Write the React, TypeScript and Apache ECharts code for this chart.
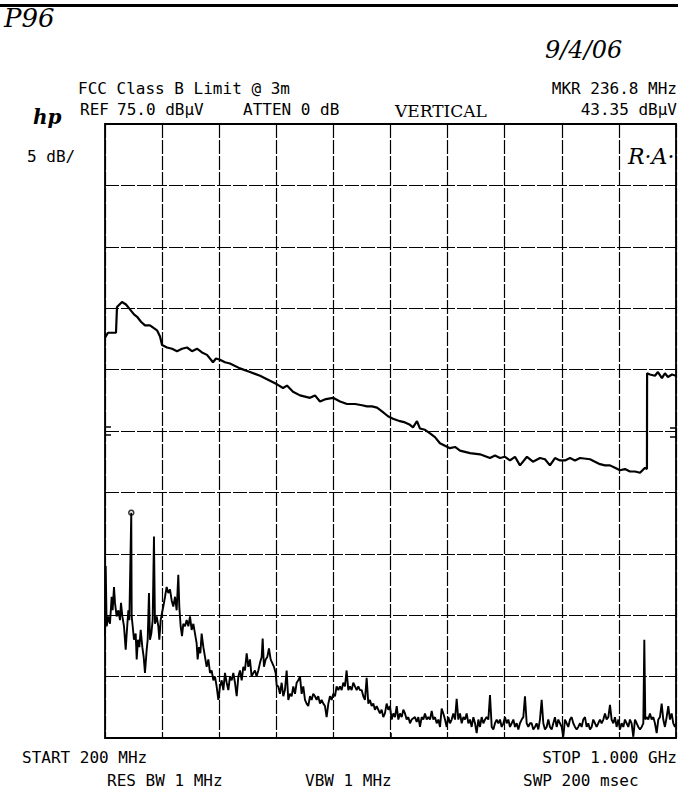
import React, { useEffect, useRef } from "react";
import * as echarts from "echarts";

// ---- Upper trace: FCC Class B limit line (MHz, dBµV) ----
const limitFreqMHz = [200,204.2,211.2,215.4,216.8,223.8,229.4,235,240.6,245,250.4,256,263,272.9,277.1,279.9,286.9,293.9,300.9,307.9,314.9,321.9,328.9,335.9,342.9,351.3,355.5,361.1,368.1,375.1,389.1,403.1,417.2,431.2,441,449.4,455,463.4,473.2,487.2,494.2,501.2,509.6,519.5,529.3,539.1,550.3,560.1,567.1,574.1,581.1,588.1,596.5,603.5,613.3,620.3,627.3,631.5,637.1,641.3,648.3,655.4,662.3,669.3,676.3,683.3,690.4,697.4,711.4,725.4,739.4,746.4,753.4,760.4,767.4,774.4,781.4,791.2,799.6,809.4,816.4,823.4,830.4,837.5,844.5,851.5,858.5,865.5,879.5,886.5,893.5,900.5,907.5,914.5,921.5,928.5,935.5,942.6,949.6,956.6,959.3,959.5,963.5,970.5,974.7,980.3,984.5,988.7,994.3,1000];
const limitLevelDbuv = [57.6,58.0,58.0,58.0,60.1,60.5,60.3,59.9,59.5,59.3,58.9,58.6,58.6,58.2,57.7,57.0,56.8,56.7,56.5,56.7,56.8,56.5,56.7,56.4,56.2,55.6,55.9,55.8,55.6,55.5,55.1,54.8,54.5,54.1,53.8,53.5,53.7,53.2,52.9,52.7,52.9,52.4,52.6,52.7,52.4,52.2,52.2,52.1,52.0,52.0,51.9,51.6,51.2,51.0,50.8,50.7,50.5,50.3,50.8,50.2,50.1,49.8,49.5,49.0,48.8,48.6,48.7,48.4,48.2,48.1,47.8,48.0,47.8,47.9,47.6,47.9,47.2,47.9,47.5,47.8,47.7,47.2,47.8,47.6,47.6,47.8,47.6,47.8,47.7,47.5,47.3,47.2,47.2,47.0,46.8,46.9,46.7,46.7,46.6,47.0,46.9,54.7,54.6,54.5,54.8,54.3,54.7,54.4,54.6,54.5];

// ---- Lower trace: measured emissions, in four frequency segments ----
const emiFreqA = [200,201,202.3,204.7,207,209.3,210.7,212.6,214,216.3,218.7,221,222.4,224.3,226.6,229,230.4,232.7,234.1,236.8,237.4,238.8,240.6,243,244.4,246.2,248.1,250,252.3,254.2,256,258.4,259.8,261.6,263,264.9,266.8,268.6,270,272.4,274.7,276.1,278,279.9,281.7,284.1,286.4,288.7,291.1,293.4,295.7,298.1,300.4,302.7,304.1,306,307.9,309.7,312.1,314.4,316.8,319.1,321.4,323.8,326.1,328.4,329.8,331.7,333.6,335.4,337.8,340.1,342.4,344.8,347.1,349.4,351.8,354.1,356.4,358.8,361.1,363.5,365.8,368.1,370.5,372.8,375.1,377.5,379.8,382.1,384.5,386.8,389.1,391.5,393.8,396.1,398.5,400.8,403.1];
const emiLevelA = [33.3,39.0,34.1,34.9,34.3,36.5,35.4,37.3,36.0,34.9,35.4,34.6,36.0,34.9,34.1,32.2,33.5,35.4,34.6,43.35,34.9,34.1,33.0,33.5,31.4,33.0,32.4,33.8,32.4,31.6,30.3,32.2,33.0,36.8,33.0,33.5,34.6,41.4,34.3,34.9,34.1,33.0,34.6,35.2,35.7,36.5,37.3,36.8,37.1,36.2,35.7,36.5,35.4,38.3,35.7,34.1,33.3,34.3,34.1,34.6,34.1,34.9,33.8,34.3,33.5,32.7,31.4,32.4,31.9,33.5,32.4,31.6,30.8,31.4,30.3,30.5,29.7,30.0,29.2,28.1,29.2,29.7,28.9,30.3,29.5,28.9,30.0,29.7,30.3,29.5,28.4,30.0,30.5,29.7,30.8,30.5,31.9,30.8,31.4];

const emiFreqB = [405.4,407.8,410.1,412.4,414.8,417.1,419.5,420.9,422.7,425.1,427.4,429.7,432.1,434.4,436.7,439.1,440.5,442.8,445.1,447.5,449.8,452.1,454.5,456.8,459.2,461.5,463.8,466.2,468.5,470.8,473.2,475.5,477.8,480.2,482.5,484.8,487.2,489.5,491.8,494.2,496.5,498.8,501.2,503.5,505.9,508.2,510.5,512.9,515.2,517.5,519.9,522.2,524.5,526.9,529.2,531.5,533.9,536.2,538.5,540.9,543.2,545.5,547.9,550.2,552.6,554.9,557.2,559.6,561.9,564.2,566.6,568.9,571.2,573.6,575.9,578.2,580.6,582.9,585.2,587.6,589.9,592.2,594.6,596.9,599.2];
const emiLevelB = [30.0,30.3,30.5,30.0,30.5,31.1,31.6,33.1,30.8,31.4,31.6,32.3,31.4,31.1,30.8,30.3,29.3,29.2,28.6,29.5,28.4,28.9,30.5,28.1,28.6,28.4,29.2,28.6,29.5,29.7,30.0,28.6,29.2,28.1,27.8,27.6,28.4,28.1,28.6,28.4,28.1,28.4,27.8,28.1,27.8,27.6,26.7,27.8,28.4,28.1,28.6,28.4,29.2,28.9,29.2,28.9,29.5,29.2,30.5,28.9,29.2,28.9,29.5,29.2,28.9,29.2,28.9,28.9,28.4,28.1,29.9,27.8,28.1,27.6,27.8,27.3,27.6,27.3,27.0,27.3,26.7,27.0,27.8,27.3,27.6];

const emiFreqC = [601.6,604.0,606.3,608.7,611.0,613.3,615.7,618.0,620.3,622.7,625.0,627.3,629.7,632.0,634.3,636.7,639.0,641.3,643.7,646.0,648.3,650.7,653.0,655.4,657.7,660.0,662.4,664.7,667.0,669.4,671.7,674.0,676.4,678.7,681.0,683.4,685.7,688.0,690.4,692.7,695.0,697.4,699.7,702.1,704.4,706.7,709.1,711.4,713.7,716.1,718.4,720.7,723.1,725.4,727.7,730.1,732.4,734.7,737.1,739.4,741.8,744.1,746.4,748.8,751.1,753.4,755.8,758.1,760.4,762.8,765.1,767.4,769.8,772.1,774.4,776.8,779.1,781.4,783.8,786.1,788.4,790.8,793.1,795.5];
const emiLevelC = [26.5,27.0,26.7,27.6,26.5,27.0,26.7,27.3,27.0,26.5,26.7,26.2,26.5,26.6,26.7,26.3,26.7,25.9,26.7,26.5,27.0,26.5,26.7,26.5,27.2,26.5,26.7,26.2,26.5,25.9,27.4,27.0,26.5,25.9,26.7,26.2,26.5,27.0,26.5,28.2,26.5,27.0,26.2,26.7,26.5,27.0,26.2,26.5,25.9,26.7,26.2,25.4,26.5,25.9,26.7,26.2,26.5,26.7,26.5,28.5,25.9,25.7,26.2,26.5,26.2,26.5,25.9,26.2,26.7,26.2,26.5,25.9,26.2,26.5,25.9,26.2,25.7,26.2,26.5,26.7,28.4,26.2,25.9,26.2];

const emiFreqD = [797.7,800.1,802.4,804.7,807.1,809.4,811.8,814.1,816.4,818.8,821.1,823.4,825.8,828.1,830.4,832.8,835.1,837.4,839.8,842.1,844.4,846.8,849.1,851.5,853.8,856.1,858.5,860.8,863.1,865.5,867.8,870.1,872.5,874.8,877.1,879.5,881.8,884.1,886.5,888.8,891.1,893.5,895.8,898.2,900.5,902.8,905.2,907.5,909.8,912.2,914.5,916.8,919.2,921.5,923.8,926.2,928.5,930.8,933.2,935.5,937.8,940.2,942.5,944.9,947.2,949.5,951.9,954.2,955.6,957.0,958.9,961.2,963.5,965.9,968.2,970.5,972.9,975.2,977.5,979.9,982.2,984.5,986.9,989.2,991.5,993.9,996.2,998.5,1000];
const emiLevelD = [26.2,25.7,25.9,26.2,25.7,26.5,28.1,26.2,25.7,25.9,26.5,25.9,25.7,26.2,26.7,25.9,26.5,26.2,25.9,25.1,26.5,26.2,25.9,26.5,26.7,26.2,25.9,25.7,25.9,26.2,25.9,26.5,26.7,25.9,26.2,25.7,25.9,26.5,26.2,25.9,26.2,26.5,26.2,26.5,27.0,26.5,26.7,27.7,26.5,26.2,26.7,25.9,26.5,25.7,26.2,25.9,26.5,26.2,25.9,26.5,26.2,25.1,26.5,26.2,25.9,25.7,25.9,26.2,33.0,26.5,26.7,26.5,27.0,26.5,26.7,26.2,25.4,26.5,26.7,27.8,26.5,25.9,26.7,27.6,26.5,27.0,26.2,25.9,26.2];

// ---- Marker ----
const markerFreqMHz = 236.8;
const markerLevelDbuv = 43.35;

// ---- Axis ranges ----
const startMHz = 200;
const stopMHz = 1000;
const refLevel = 75;
const dbPerDiv = 5;
const divisions = 10;

function pairs(f: number[], v: number[]) {
  const n = Math.min(f.length, v.length);
  const out: number[][] = [];
  for (let i = 0; i < n; i++) out.push([f[i], v[i]]);
  return out;
}

const MONO = '"DejaVu Sans Mono", monospace';

function hand(size: number, italic = true) {
  return `${italic ? "italic " : ""}400 ${size}px "DejaVu Serif", serif`;
}

export default function App() {
  const ref = useRef<HTMLDivElement>(null);
  useEffect(() => {
    if (!ref.current) return;
    const chart = echarts.init(ref.current, undefined, { renderer: "svg" });
    const gridLine = { show: true, lineStyle: { color: "#000", width: 1.2, type: [14, 2] as any } };
    const txt = (text: string, x: number, y: number, align: string, font: string) => ({
      type: "text",
      x,
      y,
      style: { text, font, fill: "#000", textAlign: align, textVerticalAlign: "middle" },
    });
    const tick = (x1: number, y1: number, x2: number, y2: number) => ({
      type: "line",
      shape: { x1, y1, x2, y2 },
      style: { stroke: "#000", lineWidth: 1.5 },
    });
    const monoFont = `16px ${MONO}`;
    const emi = [
      ...pairs(emiFreqA, emiLevelA),
      ...pairs(emiFreqB, emiLevelB),
      ...pairs(emiFreqC, emiLevelC),
      ...pairs(emiFreqD, emiLevelD),
    ];
    chart.setOption({
      animation: false,
      backgroundColor: "#fff",
      grid: {
        left: 105,
        top: 124,
        width: 571,
        height: 614,
        show: true,
        borderColor: "#000",
        borderWidth: 1.8,
        backgroundColor: "transparent",
      },
      xAxis: [
        { type: "value", min: startMHz, max: stopMHz, show: false },
        {
          type: "value",
          min: 0,
          max: divisions,
          interval: 1,
          position: "bottom",
          axisLine: { show: false },
          axisTick: { show: false },
          axisLabel: { show: false },
          splitLine: gridLine,
        },
      ],
      yAxis: [
        {
          type: "value",
          min: refLevel - dbPerDiv * divisions,
          max: refLevel,
          interval: dbPerDiv,
          axisLine: { show: false },
          axisTick: { show: false },
          axisLabel: { show: false },
          splitLine: gridLine,
        },
      ],
      series: [
        {
          type: "line",
          xAxisIndex: 0,
          data: pairs(limitFreqMHz, limitLevelDbuv),
          symbol: "none",
          lineStyle: { color: "#000", width: 2.2 },
        },
        {
          type: "line",
          xAxisIndex: 0,
          data: emi,
          symbol: "none",
          lineStyle: { color: "#000", width: 1.9 },
        },
        {
          type: "scatter",
          xAxisIndex: 0,
          data: [[markerFreqMHz, markerLevelDbuv]],
          symbol: "circle",
          symbolSize: 5,
          itemStyle: { color: "#fff", borderColor: "#000", borderWidth: 1.5 },
        },
      ],
      graphic: [
        { type: "rect", shape: { x: 0, y: 4, width: 678, height: 3 }, style: { fill: "#000" } },
        tick(105, 427, 111, 427),
        tick(105, 435, 111, 435),
        tick(670, 428, 676, 428),
        tick(670, 437, 676, 437),
        tick(391, 733, 391, 738),
        txt("P96", 4, 18, "left", hand(26)),
        txt("9/4/06", 545, 50, "left", hand(24)),
        txt("VERTICAL", 395, 111, "left", hand(17, false)),
        txt("R·A·", 628, 156, "left", hand(22)),
        txt("hp", 33, 117, "left", "italic bold 20px \"DejaVu Serif\", serif"),
        txt("FCC Class B Limit @ 3m", 78, 88, "left", monoFont),
        txt("REF", 80, 109, "left", monoFont),
        txt("75.0 dBµV", 117, 109, "left", monoFont),
        txt("ATTEN 0 dB", 243, 109, "left", monoFont),
        txt("MKR 236.8 MHz", 677, 88, "right", monoFont),
        txt("43.35 dBµV", 677, 109, "right", monoFont),
        txt("5 dB/", 27, 156, "left", monoFont),
        txt("START 200 MHz", 22, 757, "left", monoFont),
        txt("STOP 1.000 GHz", 677, 757, "right", monoFont),
        txt("RES BW 1 MHz", 107, 780, "left", monoFont),
        txt("VBW 1 MHz", 305, 780, "left", monoFont),
        txt("SWP 200 msec", 523, 780, "left", monoFont),
      ],
    });
    return () => chart.dispose();
  }, []);
  return (
    <div
      ref={ref}
      style={{ position: "absolute", left: 0, top: 0, width: 680, height: 791, background: "#fff" }}
    />
  );
}
